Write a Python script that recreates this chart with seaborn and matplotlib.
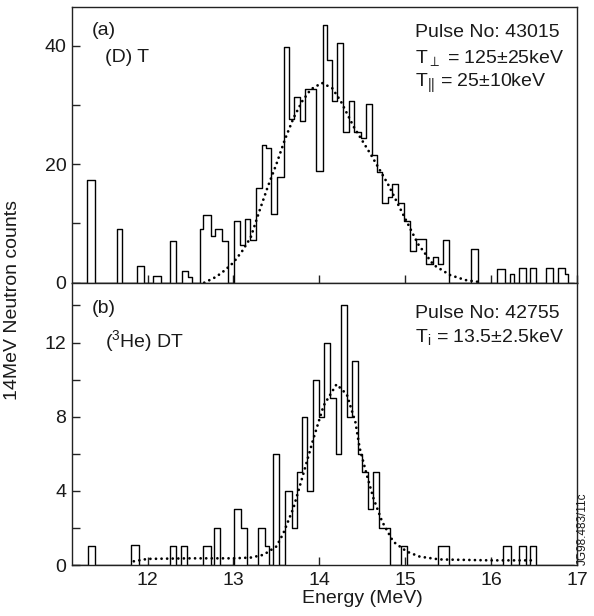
import numpy as np
import seaborn as sns
import matplotlib
matplotlib.use('Agg')
import matplotlib.pyplot as plt
from matplotlib.ticker import MultipleLocator

# (a) Pulse 43015, (D) T  -- 直方图的能量边界 (MeV) 和计数
edges_a = [11.12, 11.295, 11.384, 11.640, 11.702, 11.877, 11.958, 12.058, 12.151, 12.256,
           12.334, 12.403, 12.473, 12.523, 12.605, 12.651, 12.737, 12.787, 12.865, 12.935,
           13.005, 13.074, 13.133, 13.194, 13.264, 13.330, 13.380, 13.442, 13.508, 13.584,
           13.648, 13.709, 13.772, 13.834, 13.965, 14.047, 14.093, 14.144, 14.202, 14.276,
           14.349, 14.407, 14.488, 14.547, 14.613, 14.667, 14.733, 14.795, 14.849, 14.917,
           14.991, 15.060, 15.122, 15.241, 15.326, 15.377, 15.435, 15.508, 15.767, 15.845,
           16.063, 16.159, 16.217, 16.267, 16.322, 16.412, 16.450, 16.528, 16.644, 16.721,
           16.779, 16.865, 16.895, 16.96]
counts_a = [0, 17.3, 0, 9.0, 0, 2.9, 0, 1.1, 0, 7.1,
            0, 2.0, 1.0, 0, 9.1, 11.5, 7.8, 9.1, 7.1, 0,
            10.4, 6.3, 10.8, 7.2, 16.0, 23.3, 22.7, 11.6, 17.8, 39.8,
            27.6, 31.4, 27.3, 32.6, 18.8, 43.5, 37.6, 30.6, 40.5, 25.4,
            30.6, 25.4, 24.4, 30.1, 21.6, 18.7, 13.4, 14.5, 16.6, 13.5,
            10.4, 5.3, 7.4, 3.1, 4.4, 3.1, 7.2, 0, 5.6, 0,
            2.3, 0, 1.4, 0, 2.4, 0, 2.4, 0, 2.4, 0,
            2.4, 1.4, 0]
# 拟合曲线 (a)
fit_a_e = [12.66, 12.80, 12.90, 13.00, 13.10, 13.20, 13.30, 13.40, 13.50, 13.60,
           13.70, 13.80, 13.90, 14.03, 14.15, 14.25, 14.40, 14.60, 14.80, 15.00,
           15.15, 15.33, 15.52, 15.70, 15.87]
fit_a_n = [0.0, 1.0, 2.1, 3.4, 5.3, 7.6, 12.0, 16.2, 20.0, 24.2,
           27.8, 30.6, 32.6, 33.7, 32.8, 30.6, 26.3, 21.6, 16.6, 10.8,
           6.5, 3.0, 1.3, 0.45, 0.1]

# (b) Pulse 42755, (3He) DT
edges_b = [11.12, 11.307, 11.392, 11.807, 11.895, 12.256, 12.330, 12.384, 12.458, 12.651,
           12.733, 12.772, 12.845, 13.012, 13.090, 13.156, 13.284, 13.369, 13.415, 13.465,
           13.535, 13.605, 13.679, 13.744, 13.795, 13.853, 13.930, 13.997, 14.055, 14.124,
           14.191, 14.256, 14.319, 14.384, 14.453, 14.500, 14.563, 14.621, 14.694, 14.822,
           14.950, 15.016, 15.384, 15.512, 16.133, 16.226, 16.322, 16.412, 16.450, 16.528,
           16.96]
counts_b = [0, 1, 0, 1.1, 0, 1, 0, 1, 0, 1,
            0, 2, 0, 3, 2, 0, 2, 1, 0, 6,
            0, 4, 2, 5, 8, 4, 10, 8, 12, 9,
            6, 14, 8, 11, 6, 5, 3, 5, 2, 0,
            1, 0, 1, 0, 1, 0, 1, 0, 1, 0]
fit_b_e = [11.84, 12.00, 12.50, 13.00, 13.20, 13.35, 13.50, 13.58, 13.70, 13.80,
           13.93, 14.05, 14.20, 14.32, 14.42, 14.47, 14.55, 14.63, 14.73, 14.86,
           15.02, 15.17, 15.40, 16.00, 16.48]
fit_b_n = [0.2, 0.33, 0.36, 0.36, 0.40, 0.55, 1.0, 1.7, 3.1, 4.7,
           6.8, 8.6, 9.75, 9.2, 7.7, 6.3, 4.9, 3.6, 2.35, 1.26,
           0.72, 0.45, 0.3, 0.25, 0.25]

x_ticks = [12, 13, 14, 15, 16, 17]

sns.set_style('ticks')
plt.rcParams['font.family'] = ['Liberation Sans', 'DejaVu Sans']
plt.rcParams['mathtext.fontset'] = 'custom'
plt.rcParams['mathtext.rm'] = 'Liberation Sans'
plt.rcParams['mathtext.it'] = 'Liberation Sans:italic'
plt.rcParams['axes.edgecolor'] = '#222222'
plt.rcParams['axes.linewidth'] = 1.0

ink = '#1a1a1a'
fig = plt.figure(figsize=(5.94, 6.16), dpi=100)
ax_a = fig.add_axes([72 / 594, 1 - 282.7 / 616, 505 / 594, 275.7 / 616])
ax_b = fig.add_axes([72 / 594, 1 - 565 / 616, 505 / 594, 282.3 / 616])


def draw_panel(ax, edges, counts, fit_e, fit_n):
    centers = (np.array(edges[:-1]) + np.array(edges[1:])) / 2
    sns.histplot(x=centers, weights=counts, bins=edges, element='step', fill=False,
                 color='black', linewidth=1.0, ax=ax)
    # 拟合曲线用圆点虚线
    sns.lineplot(x=fit_e, y=fit_n, color='black', linewidth=2.0, errorbar=None,
                 linestyle=(0, (0.01, 2.0)), dash_capstyle='round', ax=ax)
    ax.set_xlim(11.12, 17.0)
    ax.set_xticks(x_ticks)
    ax.set_xlabel('')
    ax.set_ylabel('')
    ax.tick_params(which='both', direction='in', length=6, width=1, color='#222222',
                   labelsize=14, labelcolor=ink, top=False, right=False)
    ax.tick_params(axis='y', pad=4)
    ax.tick_params(axis='x', pad=5)


draw_panel(ax_a, edges_a, counts_a, fit_a_e, fit_a_n)
draw_panel(ax_b, edges_b, counts_b, fit_b_e, fit_b_n)

ax_a.set_ylim(0, 46.5)
ax_a.yaxis.set_major_locator(MultipleLocator(20))
ax_a.yaxis.set_minor_locator(MultipleLocator(10))
ax_a.tick_params(axis='x', labelbottom=False)

ax_b.set_ylim(0, 15.23)
ax_b.yaxis.set_major_locator(MultipleLocator(4))
ax_b.yaxis.set_minor_locator(MultipleLocator(2))

fs = 14
ax_a.text(0.039, 0.900, '(a)', transform=ax_a.transAxes, fontsize=fs, color=ink, va='baseline')
ax_a.text(0.066, 0.800, '(D) T', transform=ax_a.transAxes, fontsize=fs, color=ink, va='baseline')
ax_a.text(0.680, 0.892, 'Pulse No: 43015', transform=ax_a.transAxes, fontsize=fs, color=ink, va='baseline')
ax_a.text(0.680, 0.797, r'T$_{\perp}$ = 125±25keV', transform=ax_a.transAxes, fontsize=fs, color=ink, va='baseline')
ax_a.text(0.680, 0.710, r'T$_{||}$ = 25±10keV', transform=ax_a.transAxes, fontsize=fs, color=ink, va='baseline')

ax_b.text(0.039, 0.893, '(b)', transform=ax_b.transAxes, fontsize=fs, color=ink, va='baseline')
ax_b.text(0.066, 0.772, r'($^{3}$He) DT', transform=ax_b.transAxes, fontsize=fs, color=ink, va='baseline')
ax_b.text(0.680, 0.875, 'Pulse No: 42755', transform=ax_b.transAxes, fontsize=fs, color=ink, va='baseline')
ax_b.text(0.680, 0.790, r'T$_{\mathrm{i}}$ = 13.5±2.5keV', transform=ax_b.transAxes, fontsize=fs, color=ink, va='baseline')

fig.text(13 / 594, 1 - 300 / 616, '14MeV Neutron counts', rotation=90, ha='center', va='center',
         fontsize=fs, color=ink)
fig.text(362 / 594, 1 - 603 / 616, 'Energy (MeV)', ha='center', va='baseline', fontsize=fs, color=ink)
fig.text(583 / 594, 1 - 565 / 616, 'JG98.483/11c', rotation=90, ha='center', va='bottom',
         fontsize=8.5, color=ink)

fig.savefig('out.png', dpi=100)
